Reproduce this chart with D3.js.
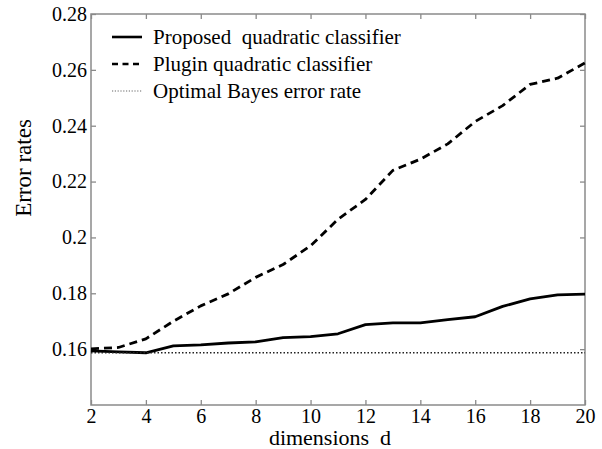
<!DOCTYPE html>
<html lang="en">
<head>
<meta charset="UTF-8">
<title>Error rates</title>
<style>
  body { margin: 0; background: #fff; }
</style>
</head>
<body>
<svg id="chart"></svg>
<script src="https://cdn.jsdelivr.net/npm/d3@7"></script>
<script>
// data
const dims = [2, 3, 4, 5, 6, 7, 8, 9, 10, 11, 12, 13, 14, 15, 16, 17, 18, 19, 20];
const proposed = [0.1594, 0.1590, 0.1587, 0.1612, 0.1615, 0.1622, 0.1626, 0.1641, 0.1645, 0.1655,
                  0.1688, 0.1694, 0.1694, 0.1706, 0.1716, 0.1753, 0.1780, 0.1794, 0.1797];
const plugin = [0.1601, 0.1606, 0.1637, 0.1700, 0.1755, 0.1798, 0.1857, 0.1903, 0.1970, 0.2065,
                0.2136, 0.2240, 0.2280, 0.2335, 0.2415, 0.2472, 0.2548, 0.2570, 0.2625];
const bayes = [0.1587, 0.1587, 0.1587, 0.1587, 0.1587, 0.1587, 0.1587, 0.1587, 0.1587, 0.1587,
               0.1587, 0.1587, 0.1587, 0.1587, 0.1587, 0.1587, 0.1587, 0.1587, 0.1587];
const xTicks = [2, 4, 6, 8, 10, 12, 14, 16, 18, 20];
const yTicks = [0.16, 0.18, 0.20, 0.22, 0.24, 0.26, 0.28];
const yTickLabels = ["0.16", "0.18", "0.2", "0.22", "0.24", "0.26", "0.28"];
const seriesNames = ["Proposed  quadratic classifier", "Plugin quadratic classifier", "Optimal Bayes error rate"];

const serif = "Liberation Serif";

const W = 602, H = 449;
const margin = { top: 14, right: 17, bottom: 44, left: 91 };
const width = W - margin.left - margin.right;
const height = H - margin.top - margin.bottom;

const svg = d3.select("#chart").attr("width", W).attr("height", H);
const g = svg.append("g").attr("transform", `translate(${margin.left},${margin.top})`);

const x = d3.scaleLinear().domain([2, 20]).range([0, width]);
const y = d3.scaleLinear().domain([0.14, 0.28]).range([height, 0]);

const axisColor = "#8a8a8a";

// axes, ticks pointing inward
const xb = g.append("g").attr("transform", `translate(0,${height})`)
  .call(d3.axisBottom(x).tickValues(xTicks).tickSize(-5).tickPadding(4).tickFormat(d3.format("d")));
const yl = g.append("g")
  .call(d3.axisLeft(y).tickValues(yTicks).tickSize(-5).tickPadding(4).tickFormat((d, i) => yTickLabels[i]));
const xt = g.append("g")
  .call(d3.axisTop(x).tickValues(xTicks).tickSize(-5).tickFormat(""));
const yr = g.append("g").attr("transform", `translate(${width},0)`)
  .call(d3.axisRight(y).tickValues(yTicks).tickSize(-5).tickFormat(""));

[xb, yl, xt, yr].forEach(a => {
  a.attr("font-family", serif).attr("font-size", 20);
  a.select(".domain").remove();
  a.selectAll(".tick line").attr("stroke", axisColor).attr("stroke-width", 1.3);
  a.selectAll(".tick text").attr("fill", "#000");
});

g.append("rect")
  .attr("width", width).attr("height", height)
  .attr("fill", "none").attr("stroke", axisColor).attr("stroke-width", 1.5);

// lines
const line = d3.line().x((d, i) => x(dims[i])).y(d => y(d));

const styles = [
  { data: proposed, dash: null, w: 2.8, color: "#000" },
  { data: plugin, dash: "8,5", w: 2.8, color: "#000" },
  { data: bayes, dash: "1.5,2", w: 1.6, color: "#222" }
];

styles.forEach(s => {
  g.append("path")
    .datum(s.data)
    .attr("fill", "none")
    .attr("stroke", s.color)
    .attr("stroke-width", s.w)
    .attr("stroke-dasharray", s.dash)
    .attr("stroke-linejoin", "round")
    .attr("d", line);
});

// legend
const legend = svg.append("g");
const rowY = [44, 71, 98];
styles.forEach((s, i) => {
  const yy = rowY[i] - 7;
  legend.append("line")
    .attr("x1", 112).attr("x2", 142)
    .attr("y1", yy).attr("y2", yy)
    .attr("stroke", i === 2 ? "#666" : "#000")
    .attr("stroke-width", i === 2 ? 1.2 : 2.6)
    .attr("stroke-dasharray", i === 1 ? "6,4.5" : (i === 2 ? "1.2,1.6" : null));
  legend.append("text")
    .attr("x", 153).attr("y", rowY[i])
    .attr("font-family", serif)
    .attr("font-size", 21)
    .style("white-space", "pre")
    .text(seriesNames[i]);
});

// axis titles
svg.append("text")
  .attr("x", margin.left + width / 2 - 8).attr("y", 445)
  .attr("text-anchor", "middle")
  .attr("font-family", serif)
  .attr("font-size", 22)
  .style("white-space", "pre")
  .text("dimensions  d");

svg.append("text")
  .attr("transform", `translate(31,168) rotate(-90)`)
  .attr("text-anchor", "middle")
  .attr("font-family", serif)
  .attr("font-size", 23)
  .text("Error rates");
</script>
</body>
</html>
